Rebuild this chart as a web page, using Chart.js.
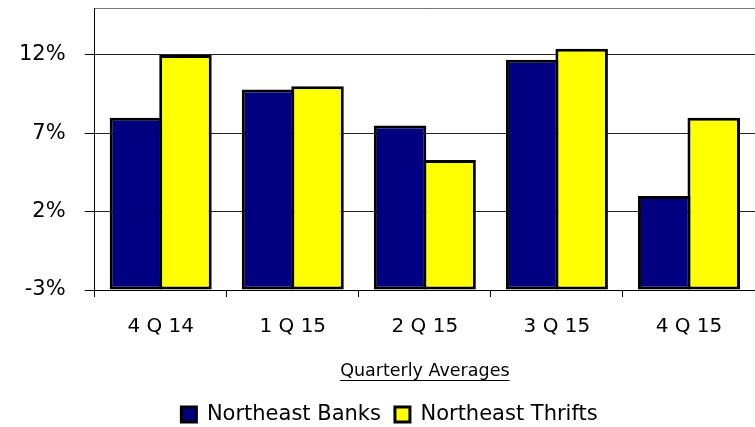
<!DOCTYPE html>
<html lang="en">
<head>
    <meta charset="UTF-8">
    <title>Quarterly Averages</title>
    <script src="https://cdn.jsdelivr.net/npm/chart.js@4.4.0/dist/chart.umd.min.js"></script>
    <style>
        body { margin: 0; background: #fff; }
        #wrap { width: 755px; height: 427px; }
    </style>
</head>
<body>
    <div id="wrap"><canvas id="myChart"></canvas></div>

    <script>
        // values (percent)
        const quarters = ['4 Q 14', '1 Q 15', '2 Q 15', '3 Q 15', '4 Q 15'];
        const banks = [8.0, 9.8, 7.5, 11.7, 3.0];
        const thrifts = [12.0, 10.0, 5.3, 12.4, 8.0];
        const yTicks = [-3, 2, 7, 12];

        const FONT = 'DejaVu Sans';

        // top border of the plot + underline under the x axis title
        const extras = {
            id: 'extras',
            afterLayout(chart) {
                // legend sits a bit right of the page centre in the original
                if (chart.legend) {
                    chart.legend.left += 12;
                    chart.legend.right += 12;
                }
            },
            afterDraw(chart) {
                const a = chart.chartArea;
                const sx = chart.scales.x;
                const t = sx.options.title;
                const ctx = chart.ctx;
                ctx.save();
                ctx.strokeStyle = '#777';
                ctx.lineWidth = 1;
                ctx.beginPath();
                ctx.moveTo(a.left, Math.round(a.top) + 0.5);
                ctx.lineTo(a.right, Math.round(a.top) + 0.5);
                ctx.stroke();

                ctx.font = t.font.size + 'px ' + FONT;
                const w = ctx.measureText(t.text).width;
                const cx = (sx.left + sx.right) / 2;
                const lh = t.font.size * 1.2;
                const cy = sx.bottom - t.padding.bottom - lh / 2;
                const y = Math.round(cy + t.font.size * 0.36 + 2) + 0.5;
                ctx.strokeStyle = '#000';
                ctx.beginPath();
                ctx.moveTo(cx - w / 2, y);
                ctx.lineTo(cx + w / 2, y);
                ctx.stroke();
                ctx.restore();
            }
        };

        const noPad = axis => {
            axis.paddingTop = 0;
            axis.paddingBottom = 0;
            axis.paddingLeft = 0;
            axis.paddingRight = 0;
        };

        const ctx = document.getElementById('myChart').getContext('2d');
        const myChart = new Chart(ctx, {
            type: 'bar',
            data: {
                labels: quarters,
                datasets: [
                    {
                        label: 'Northeast Banks',
                        data: banks,
                        base: -3,
                        backgroundColor: '#000080',
                        borderColor: '#000',
                        borderWidth: 3,
                        borderSkipped: false,
                        categoryPercentage: 0.75,
                        barPercentage: 1.06
                    },
                    {
                        label: 'Northeast Thrifts',
                        data: thrifts,
                        base: -3,
                        backgroundColor: '#ffff00',
                        borderColor: '#000',
                        borderWidth: 3,
                        borderSkipped: false,
                        categoryPercentage: 0.75,
                        barPercentage: 1.06
                    }
                ]
            },
            options: {
                responsive: true,
                maintainAspectRatio: false,
                animation: false,
                layout: { padding: { top: 8, left: 0, right: 0, bottom: -8 } },
                plugins: {
                    tooltip: { enabled: false },
                    legend: {
                        position: 'bottom',
                        labels: {
                            color: '#000',
                            font: { family: FONT, size: 21 },
                            boxWidth: 15,
                            boxHeight: 15,
                            padding: 14
                        }
                    }
                },
                scales: {
                    x: {
                        afterFit: noPad,
                        grid: {
                            display: true,
                            drawOnChartArea: false,
                            color: '#000',
                            tickLength: 7,
                            offset: true
                        },
                        border: { display: true, color: '#000', width: 1 },
                        ticks: {
                            color: '#000',
                            font: { family: FONT, size: 20 },
                            padding: 18
                        },
                        title: {
                            display: true,
                            text: 'Quarterly Averages',
                            color: '#000',
                            font: { family: FONT, size: 17.5 },
                            padding: { top: 4, bottom: 8 }
                        }
                    },
                    y: {
                        min: -3,
                        max: 15,
                        afterFit: noPad,
                        afterBuildTicks(axis) {
                            axis.ticks = yTicks.map(v => ({ value: v }));
                        },
                        grid: {
                            color: '#222',
                            tickColor: '#000',
                            tickLength: 10,
                            lineWidth: 1
                        },
                        border: { display: true, color: '#000', width: 1 },
                        ticks: {
                            color: '#000',
                            font: { family: FONT, size: 21 },
                            padding: 19,
                            callback: v => v + '%'
                        }
                    }
                }
            },
            plugins: [extras]
        });
    </script>
</body>
</html>
